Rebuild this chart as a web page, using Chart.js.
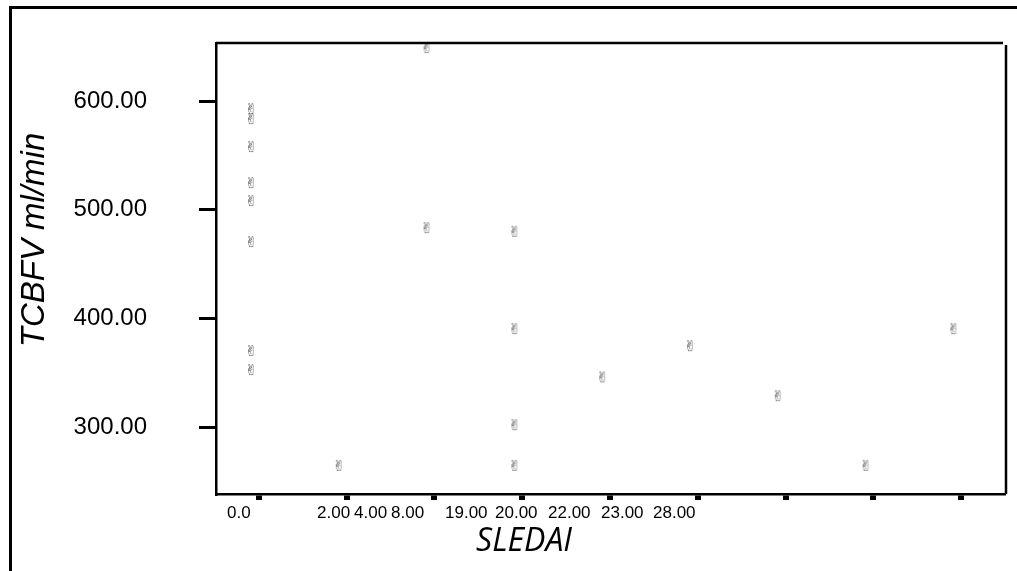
<!DOCTYPE html>
<html>
<head>
<meta charset="utf-8">
<script src="https://cdn.jsdelivr.net/npm/chart.js@4.4.1/dist/chart.umd.min.js"></script>
<style>
  html, body { margin: 0; padding: 0; background: #fff; }
</style>
</head>
<body>
<canvas id="scatterChart" width="1017" height="571"></canvas>
<script>
// SLEDAI categories as printed under the x axis
const sledaiLabels = ["0.0", "2.00", "4.00", "8.00", "19.00", "20.00", "22.00", "23.00", "28.00"];
// one entry per patient: SLEDAI category and TCBFV (ml/min)
const pointSledai = ["0.0", "0.0", "0.0", "0.0", "0.0", "0.0", "0.0", "0.0",
                     "2.00", "4.00", "4.00", "8.00", "8.00", "8.00", "8.00",
                     "19.00", "20.00", "22.00", "23.00", "28.00"];
const tcbfvValues = [591.7, 582.5, 556.8, 523.6, 507.1, 469.4, 369.1, 351.6,
                     263.5, 647.8, 482.2, 478.8, 389.3, 300.9, 263.5,
                     344.9, 373.6, 327.6, 263.5, 389.3];
const yTickValues = [300, 400, 500, 600];

// small grey "victory hand" glyph used as the marker
const marker = document.createElement("canvas");
marker.width = 12;
marker.height = 16;
const mctx = marker.getContext("2d");
mctx.fillStyle = "#505050";
mctx.font = '15px "DejaVu Sans"';
mctx.textAlign = "center";
mctx.textBaseline = "middle";
mctx.fillText("\u270C", 6, 8);

// left edges of the squeezed x labels, as in the original
const labelLeft = [227, 317, 354, 391, 445, 495, 548, 601, 653];

const framePlugin = {
    id: "frame",
    afterDraw(chart) {
        const { ctx, chartArea: a } = chart;
        ctx.save();
        ctx.strokeStyle = "#000";
        // outer frame
        ctx.lineWidth = 3;
        ctx.beginPath();
        ctx.moveTo(10.5, 571);
        ctx.lineTo(10.5, 7.5);
        ctx.lineTo(1017, 7.5);
        ctx.stroke();
        // top and right edge of the plot box
        ctx.lineWidth = 2.5;
        ctx.beginPath();
        ctx.moveTo(a.left, a.top);
        ctx.lineTo(a.right, a.top);
        ctx.stroke();
        ctx.beginPath();
        ctx.moveTo(a.right + 3, a.top + 2);
        ctx.lineTo(a.right + 3, a.bottom);
        ctx.stroke();
        // x labels
        ctx.fillStyle = "#000";
        ctx.font = '17px "Liberation Sans"';
        ctx.textAlign = "left";
        ctx.textBaseline = "middle";
        sledaiLabels.forEach((t, i) => ctx.fillText(t, labelLeft[i], 513));
        // axis titles
        ctx.textAlign = "center";
        ctx.font = 'italic 32px "Open Sans"';
        ctx.fillText("SLEDAI", 524, 542);
        ctx.translate(35, 240);
        ctx.rotate(-Math.PI / 2);
        ctx.font = 'italic 33px "Liberation Sans"';
        ctx.fillText("TCBFV ml/min", 0, 0);
        ctx.restore();
    }
};

const chart = new Chart(document.getElementById("scatterChart"), {
    type: "scatter",
    data: {
        datasets: [{
            data: tcbfvValues.map((v, i) => ({ x: sledaiLabels.indexOf(pointSledai[i]), y: v })),
            pointStyle: marker,
            pointRadius: 6
        }]
    },
    options: {
        responsive: false,
        animation: false,
        events: [],
        layout: { padding: { top: 43, right: 14, left: 0, bottom: 0 } },
        plugins: {
            legend: { display: false },
            tooltip: { enabled: false }
        },
        scales: {
            x: {
                type: "linear",
                min: -0.3986,
                max: 8.565,
                afterBuildTicks: s => { s.ticks = sledaiLabels.map((l, i) => ({ value: i + 0.088 })); },
                afterFit: s => { s.height = 77; },
                border: { color: "#000", width: 2.5 },
                grid: { drawOnChartArea: false, color: "#000", lineWidth: 6, tickLength: 6 },
                ticks: { display: false }
            },
            y: {
                min: 238.5,
                max: 653.4,
                afterBuildTicks: s => { s.ticks = yTickValues.map(v => ({ value: v })); },
                afterFit: s => { s.width = 216; s.paddingTop = 0; s.paddingBottom = 0; },
                border: { color: "#000", width: 2.5 },
                grid: { drawOnChartArea: false, color: "#000", lineWidth: 3, tickLength: 17 },
                ticks: {
                    color: "#000",
                    padding: 52,
                    font: { family: "Liberation Sans", size: 24 },
                    callback: v => v.toFixed(2)
                }
            }
        }
    },
    plugins: [framePlugin]
});
</script>
</body>
</html>
